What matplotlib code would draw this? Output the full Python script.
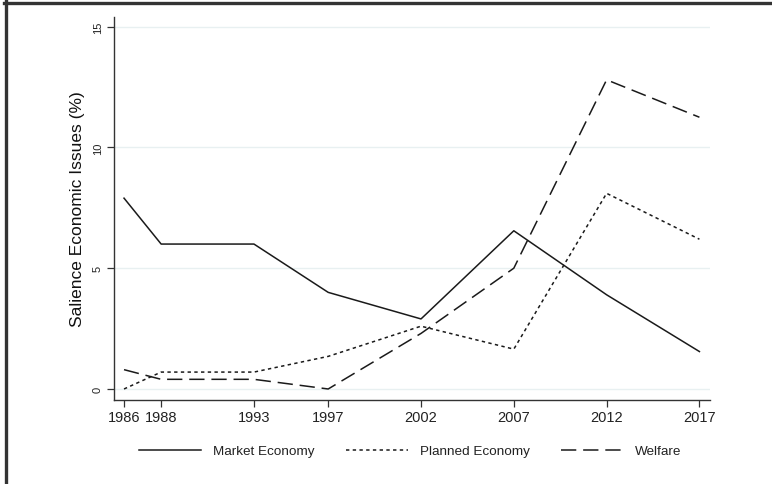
import matplotlib
matplotlib.use("Agg")
import matplotlib.pyplot as plt
from matplotlib.lines import Line2D

years = [1986, 1988, 1993, 1997, 2002, 2007, 2012, 2017]
market = [7.9, 6.0, 6.0, 4.0, 2.9, 6.55, 3.9, 1.55]
planned = [0.0, 0.7, 0.7, 1.35, 2.6, 1.65, 8.1, 6.2]
welfare = [0.8, 0.4, 0.4, 0.0, 2.3, 5.0, 12.8, 11.25]
yticks = [0, 5, 10, 15]
series_names = ["Market Economy", "Planned Economy", "Welfare"]

plt.rcParams['font.family'] = ['Liberation Sans', 'DejaVu Sans']

W, H = 772, 485
fig = plt.figure(figsize=(W / 100, H / 100), dpi=100)
ax = fig.add_axes([114 / W, 1 - 401 / H, (710 - 114) / W, (401 - 18) / H])

ax.set_xlim(1985.46, 2017.57)
ax.set_ylim(-0.456, 15.40)

for yv in yticks:
    ax.axhline(yv, color='#e8f0f1', lw=1.0, zorder=0)

ax.plot(years, market, color='#1a1a1a', lw=1.1, linestyle='-', label=series_names[0])
ax.plot(years, planned, color='#1a1a1a', lw=1.1, linestyle=(0, (2.2, 2.2)), label=series_names[1])
ax.plot(years, welfare, color='#1a1a1a', lw=1.1, linestyle=(0, (10, 4.5)), label=series_names[2])

ax.set_xticks(years)
ax.set_xticklabels([str(y) for y in years], fontsize=10.5, color='#222222')
ax.set_yticks(yticks)
ax.set_yticklabels([str(v) for v in yticks], fontsize=8, rotation=90, va='center', color='#222222')
ax.tick_params(axis='both', direction='out', length=5, width=0.9, color='#333333')
ax.tick_params(axis='x', pad=2)
ax.tick_params(axis='y', pad=3)

for s in ['top', 'right']:
    ax.spines[s].set_visible(False)
for s in ['left', 'bottom']:
    ax.spines[s].set_color('#333333')
    ax.spines[s].set_linewidth(1.0)

ax.set_ylabel("Salience Economic Issues (%)", fontsize=12.5, color='#111111', labelpad=6)

leg = fig.legend(loc='center', bbox_to_anchor=(410 / W, 1 - 452 / H), ncol=3, frameon=False,
                 fontsize=9.7, handlelength=4.6, handletextpad=0.9, columnspacing=2.3)
for t in leg.get_texts():
    t.set_color('#222222')

# partial frame (top and left) around the figure
fig.add_artist(Line2D([5.5 / W, 5.5 / W], [0, 1 - 2 / H], transform=fig.transFigure, color='#333333', lw=2.4))
fig.add_artist(Line2D([4 / W, 1], [1 - 3.5 / H, 1 - 3.5 / H], transform=fig.transFigure, color='#333333', lw=2.4))

fig.savefig("out.png", dpi=100, facecolor='white')
